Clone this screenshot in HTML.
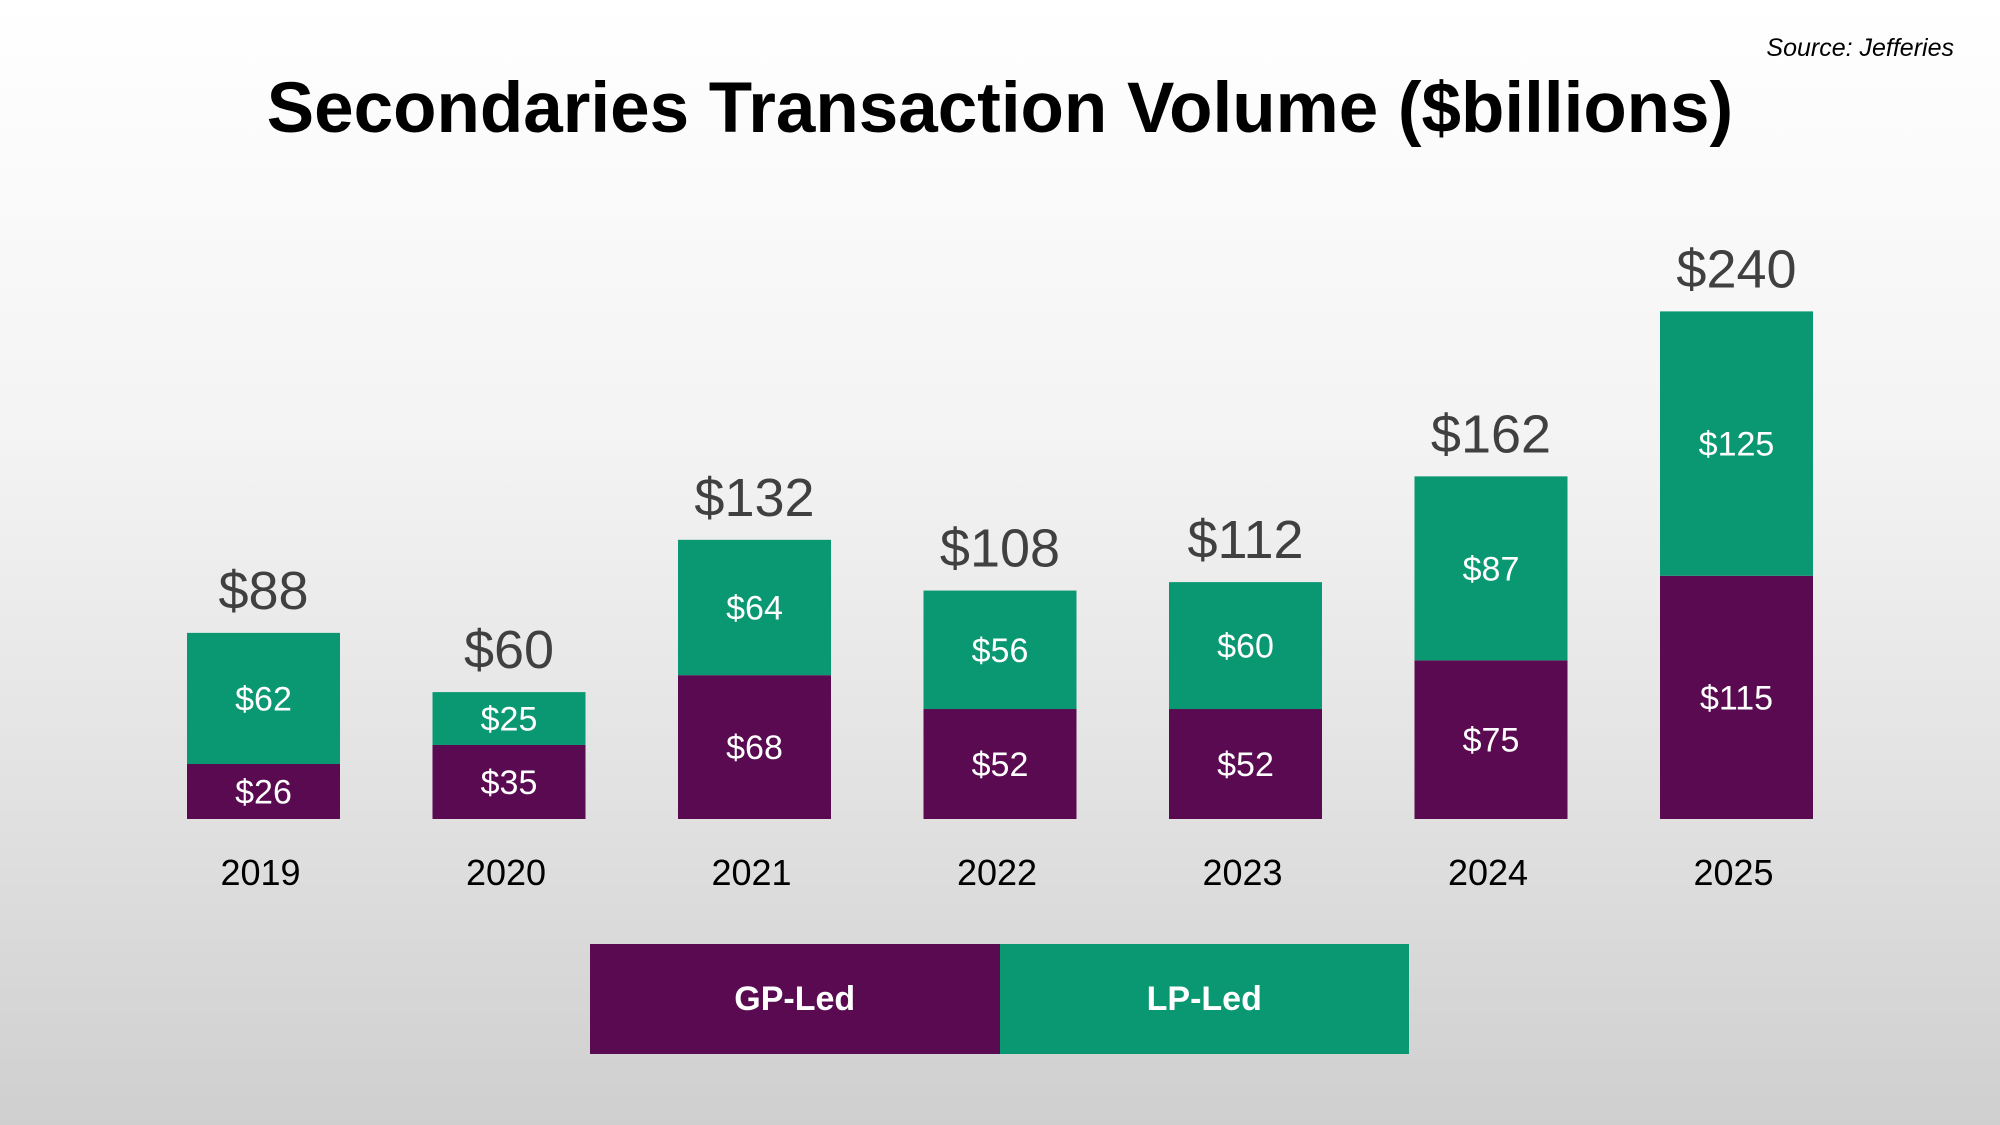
<!DOCTYPE html>
<html><head><meta charset="utf-8">
<style>
html,body{margin:0;padding:0;}
body{width:2000px;height:1125px;overflow:hidden;background:linear-gradient(to bottom,#ffffff 0%,#f3f3f3 40%,#e2e2e2 70%,#cfcfcf 100%);font-family:"Liberation Sans",sans-serif;position:relative;}
#title{position:absolute;left:0;width:2000px;top:68px;text-align:center;font-size:71px;font-weight:bold;color:#000;}
#source{position:absolute;right:46px;top:34px;font-size:25px;font-style:italic;color:#000;}
#legend{position:absolute;left:590px;top:944px;width:819px;height:110px;display:flex;}
.leg{flex:1;display:flex;align-items:center;justify-content:center;color:#fff;font-weight:bold;font-size:34px;}
</style></head><body>
<div id="title">Secondaries Transaction Volume ($billions)</div>
<div id="source">Source: Jefferies</div>
<svg id="chart" width="2000" height="1125" style="position:absolute;left:0;top:0"></svg>
<div id="legend">
<div class="leg" style="background:#590a51">GP-Led</div>
<div class="leg" style="background:#0a9873">LP-Led</div>
</div>
<script>
const years=["2019","2020","2021","2022","2023","2024","2025"];
const gpLed=[26,35,68,52,52,75,115];
const lpLed=[62,25,64,56,60,87,125];
const totals=[88,60,132,108,112,162,240];
const NS="http://www.w3.org/2000/svg";
const svg=document.getElementById('chart');
const base=819,unit=2.115,x0=187,step=245.5,bw=153;
const X=i=>x0+i*step;
const Y=v=>base-v*unit;
function mk(tag,attrs,txt){const e=document.createElementNS(NS,tag);for(const k in attrs)e.setAttribute(k,attrs[k]);if(txt!==undefined)e.textContent=txt;svg.appendChild(e);return e;}
years.forEach((yr,i)=>{
  const cx=X(i)+bw/2;
  const g=mk('rect',{x:X(i),y:Y(gpLed[i]),width:bw,height:gpLed[i]*unit,fill:'#590a51'});
  
  
  const l=mk('rect',{x:X(i),y:Y(gpLed[i]+lpLed[i]),width:bw,height:lpLed[i]*unit,fill:'#0a9873'});
  
  
  const gt=mk('text',{x:cx,y:(Y(gpLed[i])+base)/2+12,'text-anchor':'middle','font-size':34,fill:'#fff'},'$'+gpLed[i]);
  
  
  const lt=mk('text',{x:cx,y:(Y(gpLed[i])+Y(gpLed[i]+lpLed[i]))/2+12,'text-anchor':'middle','font-size':34,fill:'#fff'},'$'+lpLed[i]);
  
  
  const tt=mk('text',{x:cx,y:Y(totals[i])-24,'text-anchor':'middle','font-size':54,fill:'#404040'},'$'+totals[i]);
  
  
  const xt=mk('text',{x:cx-3,y:885,'text-anchor':'middle','font-size':36,fill:'#000'},yr);
  
  
});
</script>
</body></html>
